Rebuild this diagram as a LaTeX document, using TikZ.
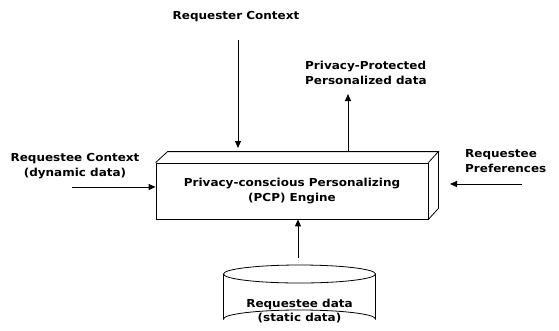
\documentclass[tikz,border=0pt]{standalone}
\usepackage{fontspec}
\setmainfont{DejaVu Sans}[FakeStretch=1.09]
\usetikzlibrary{arrows.meta}
\begin{document}
\begin{tikzpicture}[x=1pt,y=-1pt,
  lbl/.style={font=\bfseries\fontsize{11}{14.5}\selectfont, inner sep=0pt, align=center},
  flow/.style={draw=black, line width=0.9pt, -{Triangle[length=7pt,width=6pt]}},
  edge/.style={draw=black, line width=0.8pt}]
\useasboundingbox (0,0) rectangle (559,330);

% engine block: front face plus top and right faces
\node[edge, minimum width=272pt, minimum height=56pt, inner sep=0pt,
      font=\bfseries\fontsize{11}{14.5}\selectfont, align=center] (eng) at (292,191)
  {Privacy-conscious Personalizing\\(PCP) Engine};
\draw[edge] (eng.north west) -- ++(12,-11) -- ([shift={(10,-11)}]eng.north east) -- (eng.north east);
\draw[edge] ([shift={(10,-11)}]eng.north east) -- ([shift={(10,-11)}]eng.south east) -- (eng.south east);

% database cylinder
\coordinate (dbc) at (299.5,274);
\draw[edge] (223.5,274) -- (223.5,319) arc[start angle=180, end angle=360, x radius=76, y radius=9]
  -- (375.5,274);
\draw[edge] (dbc) ellipse[x radius=76, y radius=9];
\node[lbl] (db) at (299.5,311) {Requestee data\\(static data)};
\coordinate (dbtop) at (298,258);

% labels
\node[lbl] (rqc) at (236,17) {Requester Context};
\node[lbl, align=left, anchor=west] (ppd) at (305,73) {Privacy-Protected\\Personalized data};
\node[lbl] (rec) at (75,166) {Requestee Context\\(dynamic data)};
\node[lbl, align=left, anchor=west] (rep) at (465,161) {Requestee\\Preferences};

% connectors
\coordinate (rqcend) at (238,148);
\draw[flow] (238,40) -- (rqcend);
\coordinate (ppdtail) at (348,151);
\draw[flow] (ppdtail) -- (348,94);
\coordinate (rectail) at (72,187);
\draw[flow] (rectail) -- (eng.west |- rectail);
\coordinate (reptail) at (522,184);
\draw[flow] (reptail) -- (450,184);
\draw[flow] (dbtop) -- (eng.south -| dbtop);
\end{tikzpicture}
\end{document}
